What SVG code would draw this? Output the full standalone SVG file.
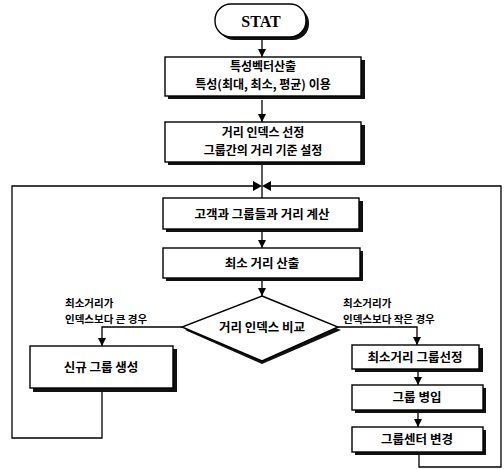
<svg xmlns="http://www.w3.org/2000/svg" width="504" height="469" viewBox="0 0 504 469">
<defs>
<marker id="arr" viewBox="0 0 10 10" refX="10" refY="5" markerWidth="8" markerHeight="8" markerUnits="userSpaceOnUse" orient="auto">
<path d="M0,0 L10,5 L0,10 z" fill="#000"/>
</marker>
<style>
.box{fill:#fff;stroke:#000;stroke-width:1.4}
.sh{fill:#111}
.t{font-family:"Noto Sans CJK KR","Noto Sans",sans-serif;font-weight:bold;font-size:12.5px;text-anchor:middle;fill:#000}
.t2{font-family:"Noto Sans CJK KR","Noto Sans",sans-serif;font-weight:bold;font-size:12px;text-anchor:middle;fill:#000}
.lb{font-family:"Noto Sans CJK KR","Noto Sans",sans-serif;font-weight:bold;font-size:10.5px;fill:#000}
.ln{fill:none;stroke:#000;stroke-width:1.3}
</style>
</defs>
<rect width="504" height="469" fill="#fff"/>

<g id="connectors">
<line class="ln" x1="262" y1="40" x2="262" y2="57" marker-end="url(#arr)"/>
<line class="ln" x1="262" y1="100" x2="262" y2="122" marker-end="url(#arr)"/>
<line class="ln" x1="262" y1="165" x2="262" y2="198"/>
<line class="ln" x1="262" y1="232" x2="262" y2="248" marker-end="url(#arr)"/>
<line class="ln" x1="262" y1="281" x2="262" y2="296" marker-end="url(#arr)"/>
<polyline class="ln" points="182,327 102,327 102,346" marker-end="url(#arr)"/>
<polyline class="ln" points="338,327 417,327 417,345" marker-end="url(#arr)"/>
<line class="ln" x1="418" y1="372" x2="418" y2="385" marker-end="url(#arr)"/>
<line class="ln" x1="418" y1="413" x2="418" y2="427" marker-end="url(#arr)"/>
<polyline class="ln" points="102,392 102,438 12,438 12,186 253,186"/>
<polyline class="ln" points="419,455 419,467 501,467 501,186 271,186"/>
<path d="M253,181 L262,186 L253,191 z M271,181 L262,186 L271,191 z" fill="#000"/>
</g>

<g id="start">
<rect x="218" y="7" width="91" height="33" rx="16" class="sh"/>
<rect x="215" y="4" width="91" height="33" rx="16" class="box"/>
<text x="261" y="27" font-family="Liberation Serif,serif" font-weight="bold" font-size="16" text-anchor="middle">STAT</text>
</g>

<g id="n1">
<rect x="168" y="60" width="197" height="39" class="sh"/>
<rect x="165" y="57" width="196" height="39" class="box"/>
<text x="263" y="71" class="t2">특성벡터산출</text>
<text x="263" y="89" class="t2">특성(최대, 최소, 평균) 이용</text>
</g>

<g id="n2">
<rect x="168" y="125" width="197" height="40" class="sh"/>
<rect x="165" y="122" width="196" height="40" class="box"/>
<text x="263" y="137" class="t2">거리 인덱스 선정</text>
<text x="263" y="155" class="t2">그룹간의 거리 기준 설정</text>
</g>

<g id="n3">
<rect x="166" y="201" width="197" height="31" class="sh"/>
<rect x="163" y="198" width="196" height="31" class="box"/>
<text x="262" y="219" class="t">고객과 그룹들과 거리 계산</text>
</g>

<g id="n4">
<rect x="166" y="251" width="197" height="30" class="sh"/>
<rect x="163" y="248" width="197" height="30" class="box"/>
<text x="262" y="268" class="t">최소 거리 산출</text>
</g>

<g id="decision">
<polygon points="262,299 341,330 262,364 185,330" class="sh"/>
<polygon points="262,296 338,327 262,361 182,327" class="box"/>
<text x="262" y="332" class="t">거리 인덱스 비교</text>
</g>

<g id="labels">
<text x="65" y="307" class="lb">최소거리가</text>
<text x="65" y="323" class="lb">인덱스보다 큰 경우</text>
<text x="343" y="307" class="lb">최소거리가</text>
<text x="343" y="323" class="lb">인덱스보다 작은 경우</text>
</g>

<g id="n5">
<rect x="33" y="349" width="144" height="43" class="sh"/>
<rect x="30" y="346" width="143" height="42" class="box"/>
<text x="101" y="372" class="t">신규 그룹 생성</text>
</g>

<g id="n6">
<rect x="355" y="348" width="128" height="24" class="sh"/>
<rect x="352" y="345" width="127" height="24" class="box"/>
<text x="415" y="362" class="t">최소거리 그룹선정</text>
</g>

<g id="n7">
<rect x="355" y="388" width="131" height="25" class="sh"/>
<rect x="352" y="385" width="131" height="25" class="box"/>
<text x="417" y="402" class="t">그룹 병입</text>
</g>

<g id="n8">
<rect x="355" y="430" width="131" height="25" class="sh"/>
<rect x="352" y="427" width="131" height="25" class="box"/>
<text x="417" y="444" class="t">그룹센터 변경</text>
</g>
</svg>
